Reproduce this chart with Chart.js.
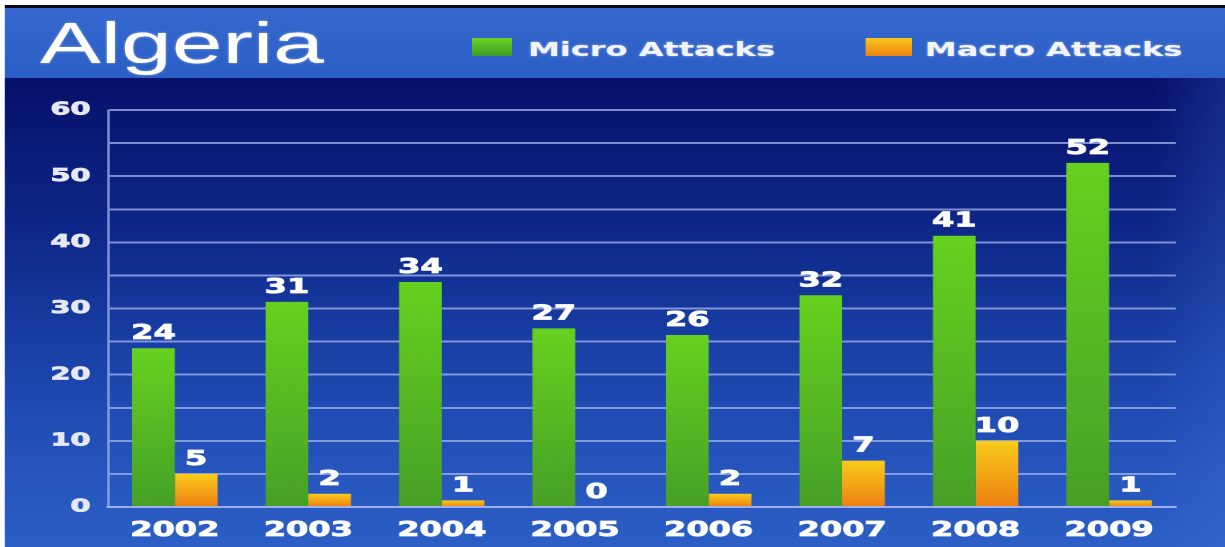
<!DOCTYPE html>
<html>
<head>
<meta charset="utf-8">
<title>Algeria</title>
<script src="https://cdn.jsdelivr.net/npm/chart.js@4"></script>
<style>
    html, body { margin: 0; padding: 0; width: 1225px; height: 547px; overflow: hidden; background: #ffffff; }
    /* the original slide is stretched sideways, so the whole stage is drawn narrow and scaled in x */
    #stage { position: absolute; left: 0; top: 0; width: 765.625px; height: 547px; transform: scaleX(1.6); transform-origin: 0 0; }
    #topline { position: absolute; left: 3px; right: 0; top: 5px; height: 3px; background: #0a0a14; }
    #header { position: absolute; left: 3px; right: 0; top: 8px; height: 70px; background: linear-gradient(#3568ce, #2b5fc6); }
    #plot { position: absolute; left: 3px; right: 0; top: 78px; bottom: 0;
        background: linear-gradient(90deg, rgba(0,0,0,0) 94%, rgba(70,120,225,0.22) 100%),
                    linear-gradient(180deg, #07106a 0%, #0d2586 30%, #1a42a8 60%, #2656be 85%, #2b5fc6 100%); }
    #title { position: absolute; left: 25px; top: 14px; margin: 0; font: 57px/58px "Liberation Sans", Arial, sans-serif; color: #ffffff;
        white-space: nowrap; text-shadow: 0 0 2px rgba(255,255,255,0.5); }
    .legend-box { position: absolute; top: 38px; height: 18px; }
    .legend-text { position: absolute; top: 39px; font: bold 20px/20px "DejaVu Sans", sans-serif; color: #f2f4fb; white-space: nowrap;
        text-shadow: 0 0 2px rgba(255,255,255,0.55); }
    #chart-wrap { position: absolute; left: 0; top: 78px; width: 765.625px; height: 469px; }
</style>
</head>
<body>
<div id="stage">
    <div id="topline"></div>
    <div id="header"></div>
    <div id="plot"></div>
    <h1 id="title">Algeria</h1>
    <div class="legend-box" style="left:295px; width:25px; background:linear-gradient(#69d321,#3f9a25);"></div>
    <div class="legend-text" style="left:330px;">Micro Attacks</div>
    <div class="legend-box" style="left:541px; width:29px; background:linear-gradient(#f8c81c,#ee8012);"></div>
    <div class="legend-text" style="left:578px;">Macro Attacks</div>
    <div id="chart-wrap"><canvas id="attacksChart"></canvas></div>
</div>

<script>
// --- dados do gráfico ---
const anos = ['2002', '2003', '2004', '2005', '2006', '2007', '2008', '2009'];
const microAttacks = [24, 31, 34, 27, 26, 32, 41, 52];
const macroAttacks = [5, 2, 1, 0, 2, 7, 10, 1];
const yTicks = [0, 10, 20, 30, 40, 50, 60];

const lineColor = 'rgba(165, 180, 238, 0.75)';

// gradiente vertical por barra (topo -> base)
function barFill(topColor, bottomColor) {
    return function(c) {
        const yScale = c.chart.scales.y;
        if (!yScale || c.type !== 'data') return topColor;
        const y0 = yScale.getPixelForValue(c.raw);
        const y1 = yScale.getPixelForValue(0);
        if (!isFinite(y0) || !isFinite(y1) || y0 === y1) return topColor;
        const g = c.chart.ctx.createLinearGradient(0, y0, 0, y1);
        g.addColorStop(0, topColor);
        g.addColorStop(1, bottomColor);
        return g;
    };
}

// escreve o valor acima de cada barra
const valueLabels = {
    id: 'valueLabels',
    afterDatasetsDraw(chart) {
        const ctx = chart.ctx;
        ctx.save();
        ctx.font = 'bold 20px "DejaVu Sans"';
        ctx.fillStyle = '#ffffff';
        ctx.strokeStyle = '#ffffff';
        ctx.lineWidth = 0.8;
        ctx.textAlign = 'center';
        ctx.textBaseline = 'alphabetic';
        chart.data.datasets.forEach((ds, i) => {
            chart.getDatasetMeta(i).data.forEach((bar, j) => {
                ctx.strokeText(String(ds.data[j]), bar.x, bar.y - 9);
                ctx.fillText(String(ds.data[j]), bar.x, bar.y - 9);
            });
        });
        ctx.restore();
    }
};

document.addEventListener('DOMContentLoaded', function() {
    const ctx = document.getElementById('attacksChart').getContext('2d');

    new Chart(ctx, {
        type: 'bar',
        data: {
            labels: anos,
            datasets: [{
                label: 'Micro Attacks',
                data: microAttacks,
                backgroundColor: barFill('#66d11f', '#46a027'),
                borderWidth: 0
            }, {
                label: 'Macro Attacks',
                data: macroAttacks,
                backgroundColor: barFill('#f9cc1b', '#ee7f12'),
                borderWidth: 0
            }]
        },
        options: {
            responsive: true,
            maintainAspectRatio: false,
            animation: false,
            devicePixelRatio: 2,
            layout: { padding: { left: 0, right: 31.2, top: 32, bottom: 0 } },
            categoryPercentage: 0.64,
            barPercentage: 1.0,
            plugins: {
                legend: { display: false },
                tooltip: { enabled: false }
            },
            scales: {
                x: {
                    afterFit: function(scale) { scale.height = 40; },
                    grid: {
                        offset: true,
                        drawTicks: false,
                        lineWidth: 1.5,
                        color: c => (c.index === anos.length ? lineColor : 'rgba(0,0,0,0)')
                    },
                    border: { display: true, color: lineColor, width: 2 },
                    ticks: {
                        padding: 12,
                        color: '#ffffff',
                        textStrokeColor: '#ffffff',
                        textStrokeWidth: 0.8,
                        font: { family: 'DejaVu Sans', weight: 'bold', size: 20 }
                    }
                },
                y: {
                    min: 0,
                    max: 60,
                    afterFit: function(scale) { scale.width = 67.5; },
                    grid: { drawTicks: false, lineWidth: 2, color: lineColor },
                    border: { display: true, color: lineColor, width: 1.5 },
                    ticks: {
                        stepSize: 5,
                        padding: 11,
                        color: '#e6e9f4',
                        textStrokeColor: '#e6e9f4',
                        textStrokeWidth: 0.8,
                        font: { family: 'DejaVu Sans', weight: 'bold', size: 18 },
                        callback: v => (yTicks.includes(v) ? String(v) : '')
                    }
                }
            }
        },
        plugins: [valueLabels]
    });
});
</script>
</body>
</html>
